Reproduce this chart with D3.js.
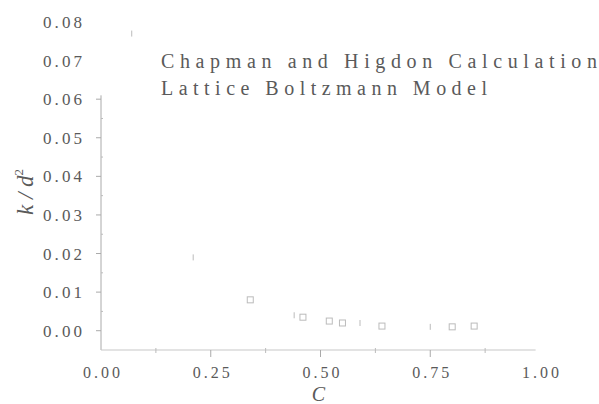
<!DOCTYPE html>
<html>
<head>
<meta charset="utf-8">
<script src="https://cdn.jsdelivr.net/npm/d3@7"></script>
<style>
  body { margin: 0; background: #fff; }
  text { font-family: "Liberation Serif", "DejaVu Serif", serif; fill: #5a5a5a; }
</style>
</head>
<body>
<svg id="chart"></svg>
<script>
var chapmanC = [0.07, 0.21, 0.44, 0.59, 0.75];
var chapmanK = [0.077, 0.019, 0.0040, 0.0020, 0.0010];
var lbmC = [0.34, 0.46, 0.52, 0.55, 0.64, 0.80, 0.85];
var lbmK = [0.0080, 0.0035, 0.0025, 0.0020, 0.0012, 0.0010, 0.0012];
var xTicks = [0, 0.25, 0.5, 0.75, 1.0];
var yTicks = [0, 0.01, 0.02, 0.03, 0.04, 0.05, 0.06, 0.07, 0.08];
var legendLabels = ["Chapman and Higdon Calculation", "Lattice Boltzmann Model"];

var width = 599, height = 404;
var svg = d3.select("#chart").attr("width", width).attr("height", height);

var x = d3.scaleLinear().domain([0, 1]).range([101, 540]);
var y = d3.scaleLinear().domain([-0.005, 0.08]).range([350, 22]);

// axis lines (top of y axis is washed out in the scan)
svg.append("line")
    .attr("x1", x(0)).attr("x2", x(0))
    .attr("y1", y(0.061)).attr("y2", y(-0.005))
    .attr("stroke", "#aaa").attr("stroke-width", 1);
svg.append("line")
    .attr("x1", x(0)).attr("x2", x(0.99))
    .attr("y1", y(-0.005)).attr("y2", y(-0.005))
    .attr("stroke", "#c8c8c8").attr("stroke-width", 1.2);

// y ticks
svg.selectAll(".ytick").data(yTicks.filter(function (d) { return d <= 0.06; }))
    .enter().append("line")
    .attr("x1", x(0) - 5).attr("x2", x(0))
    .attr("y1", function (d) { return y(d); }).attr("y2", function (d) { return y(d); })
    .attr("stroke", "#aaa");
svg.selectAll(".yminor").data(d3.range(0.005, 0.06, 0.01))
    .enter().append("line")
    .attr("x1", x(0)).attr("x2", x(0) + 2)
    .attr("y1", function (d) { return y(d); }).attr("y2", function (d) { return y(d); })
    .attr("stroke", "#bbb");
svg.selectAll(".ylab").data(yTicks)
    .enter().append("text")
    .attr("x", 43).attr("y", function (d) { return y(d) + 6; })
    .attr("font-size", 17)
    .attr("textLength", 39).attr("lengthAdjust", "spacing")
    .text(function (d) { return d3.format(".2f")(d); });

// x ticks
svg.selectAll(".xtick").data(xTicks.slice(1, 4))
    .enter().append("line")
    .attr("x1", function (d) { return x(d); }).attr("x2", function (d) { return x(d); })
    .attr("y1", y(-0.005)).attr("y2", y(-0.005) + 7)
    .attr("stroke", "#aaa");
svg.selectAll(".xminor").data([0.125, 0.375, 0.625, 0.875])
    .enter().append("line")
    .attr("x1", function (d) { return x(d); }).attr("x2", function (d) { return x(d); })
    .attr("y1", y(-0.005) - 2).attr("y2", y(-0.005) + 3)
    .attr("stroke", "#bbb");
svg.selectAll(".xlab").data(xTicks)
    .enter().append("text")
    .attr("x", function (d) { return x(d) - 18; }).attr("y", 378)
    .attr("font-size", 16)
    .attr("textLength", 37).attr("lengthAdjust", "spacing")
    .text(function (d) { return d3.format(".2f")(d); });

// axis titles
svg.append("text")
    .attr("x", x(0.48)).attr("y", 401)
    .attr("font-size", 20).attr("font-style", "italic")
    .text("C");
svg.append("text")
    .attr("transform", "translate(33,192) rotate(-90)")
    .attr("text-anchor", "middle")
    .attr("font-size", 23).attr("font-style", "italic")
    .html("k / d<tspan dy='-10' font-size='13' font-style='normal'>2</tspan>");

// Chapman & Higdon: faint vertical dashes
svg.selectAll(".ch").data(chapmanC)
    .enter().append("line")
    .attr("x1", function (d) { return x(d); }).attr("x2", function (d) { return x(d); })
    .attr("y1", function (d, i) { return y(chapmanK[i]) - 3; })
    .attr("y2", function (d, i) { return y(chapmanK[i]) + 3; })
    .attr("stroke", "#bbb").attr("stroke-width", 1);

// Lattice Boltzmann: small open squares
svg.selectAll(".lbm").data(lbmC)
    .enter().append("rect")
    .attr("x", function (d) { return x(d) - 3; })
    .attr("y", function (d, i) { return y(lbmK[i]) - 3; })
    .attr("width", 6).attr("height", 6)
    .attr("fill", "none").attr("stroke", "#bbb").attr("stroke-width", 1);

// legend
var legendWidths = [436, 326];
svg.selectAll(".leg").data(legendLabels)
    .enter().append("text")
    .attr("x", 161).attr("y", function (d, i) { return 68 + i * 27; })
    .attr("font-size", 20)
    .attr("textLength", function (d, i) { return legendWidths[i]; })
    .attr("lengthAdjust", "spacing")
    .attr("fill", "#666")
    .text(function (d) { return d; });
</script>
</body>
</html>
